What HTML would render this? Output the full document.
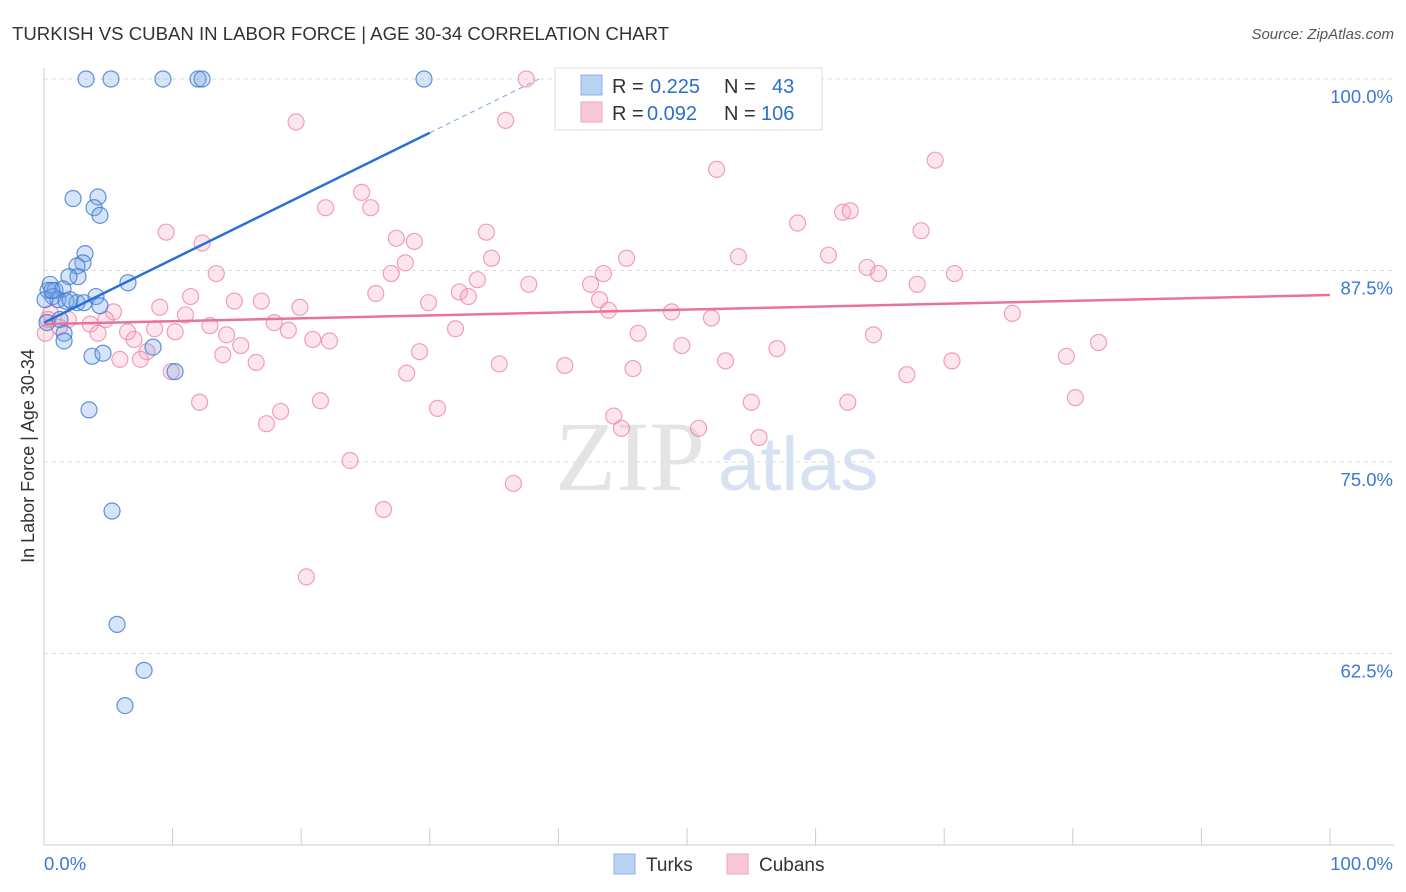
<!DOCTYPE html>
<html><head><meta charset="utf-8"><style>
body{margin:0;background:#fff;font-family:"Liberation Sans",sans-serif;}
svg{display:block}
</style></head><body>
<svg id="chart" width="1406" height="892" font-family="Liberation Sans, sans-serif">
<text x="12" y="40" font-size="18.6" fill="#333">TURKISH VS CUBAN IN LABOR FORCE | AGE 30-34 CORRELATION CHART</text>
<text x="1394" y="39" font-size="15" fill="#555" text-anchor="end" font-style="italic">Source: ZipAtlas.com</text>
<text x="34" y="456" font-size="18" fill="#333" text-anchor="middle" transform="rotate(-90 34 456)">In Labor Force | Age 30-34</text>
<text x="555" y="490" font-size="100" fill="#e4e4e4" font-family="Liberation Serif, serif">ZIP</text>
<text x="718" y="490" font-size="76" fill="#d6e2f2">atlas</text>
<g id="grid"></g><g id="axes"></g><g id="pts"></g><g id="trend"></g>
<g>
<rect x="555" y="68" width="267" height="62" fill="#fff" stroke="#ddd"/>
<rect x="581" y="75" width="21" height="20" fill="#b9d3f5" stroke="#8ab2e8"/>
<rect x="581" y="102" width="21" height="20" fill="#f9c8d8" stroke="#eea5bd"/>
<text x="612" y="93" font-size="20" fill="#333">R =</text>
<text x="650" y="93" font-size="20" fill="#2a6fd0">0.225</text>
<text x="724" y="93" font-size="20" fill="#333">N =</text>
<text x="772" y="93" font-size="20" fill="#2a6fd0">43</text>
<text x="612" y="120" font-size="20" fill="#333">R =</text>
<text x="647" y="120" font-size="20" fill="#2a6fd0">0.092</text>
<text x="724" y="120" font-size="20" fill="#333">N =</text>
<text x="761" y="120" font-size="20" fill="#2a6fd0">106</text>
</g>
<g>
<rect x="614" y="854" width="21" height="20" fill="#b9d3f5" stroke="#8ab2e8"/>
<text x="646" y="871" font-size="19" fill="#333">Turks</text>
<rect x="727" y="854" width="21" height="20" fill="#f9c8d8" stroke="#eea5bd"/>
<text x="759" y="871" font-size="19" fill="#333">Cubans</text>
</g>
<text x="44" y="870" font-size="18.5" fill="#3b78d8">0.0%</text>
<text x="1393" y="870" font-size="18.5" fill="#3b78d8" text-anchor="end">100.0%</text>
</svg>
<script>
const yTicks=[100,87.5,75,62.5];
const yTickLabels=["100.0%","87.5%","75.0%","62.5%"];
const turksX=[3.27,5.21,9.25,11.98,12.29,29.55,2.26,4.2,3.89,4.35,3.19,3.03,2.57,2.64,1.94,0.47,0.31,0.86,1.48,0.7,1.09,1.71,2.57,3.11,4.04,4.35,6.53,0.23,1.24,1.56,1.56,3.73,4.59,8.48,10.19,3.5,5.29,5.68,7.78,6.3,0.08,2.02,0.62];
const turksY=[100,100,100,100,100,100,92.2,92.3,91.6,91.1,88.6,88.0,87.8,87.1,87.1,86.6,86.2,86.2,86.3,85.8,85.6,85.5,85.4,85.4,85.8,85.2,86.7,84.1,84.3,83.4,82.9,81.9,82.1,82.5,80.9,78.4,71.8,64.4,61.4,59.1,85.6,85.6,86.2];
const cubansX=[37.5,19.6,35.9,69.3,52.3,24.7,21.9,25.4,9.5,58.6,62.1,62.7,68.2,27.4,28.8,34.4,12.3,61.0,28.1,34.8,45.3,54.0,64.0,64.9,70.8,13.4,27.0,43.5,33.7,37.7,67.9,42.5,11.4,25.8,32.3,33.0,43.2,14.8,16.9,29.9,9.0,19.9,43.9,48.8,5.4,75.3,11.0,51.9,17.9,12.9,3.6,1.9,4.8,0.5,0.3,1.2,4.2,6.5,8.6,10.2,14.2,19.0,32.0,46.2,64.5,7.0,15.3,20.9,22.2,49.6,57.0,0.1,8.0,29.2,13.9,5.9,7.5,16.5,35.4,40.5,53.0,70.6,79.5,82.0,9.9,28.2,45.8,67.1,12.1,21.5,30.6,55.0,62.5,80.2,18.4,17.3,44.3,44.9,50.9,55.6,23.8,36.5,26.4,20.4];
const cubansY=[100,97.2,97.3,94.7,94.1,92.6,91.6,91.6,90.0,90.6,91.3,91.4,90.1,89.6,89.4,90.0,89.3,88.5,88.0,88.3,88.3,88.4,87.7,87.3,87.3,87.3,87.3,87.3,86.9,86.6,86.6,86.6,85.8,86.0,86.1,85.8,85.6,85.5,85.5,85.4,85.1,85.1,84.9,84.8,84.8,84.7,84.6,84.4,84.1,83.9,84.0,84.3,84.3,84.7,84.3,83.8,83.4,83.5,83.7,83.5,83.3,83.6,83.7,83.4,83.3,83.0,82.6,83.0,82.9,82.6,82.4,83.4,82.2,82.2,82.0,81.7,81.7,81.5,81.4,81.3,81.6,81.6,81.9,82.8,80.9,80.8,81.1,80.7,78.9,79.0,78.5,78.9,78.9,79.2,78.3,77.5,78.0,77.2,77.2,76.6,75.1,73.6,71.9,67.5];
const turksTrend=[84.1,0.413];
const cubansTrend=[84.0,0.019];
const NS="http://www.w3.org/2000/svg";
const X=v=>44+v*12.86, Y=v=>79+(100-v)*15.32;
function mk(tag,attrs,parent){const e=document.createElementNS(NS,tag);for(const k in attrs)e.setAttribute(k,attrs[k]);parent.appendChild(e);return e;}
const grid=document.getElementById('grid'),axes=document.getElementById('axes'),pts=document.getElementById('pts'),tr=document.getElementById('trend');
yTicks.forEach((t,i)=>{
 const l=mk('line',{x1:44,x2:1394,y1:Y(t),y2:Y(t),stroke:'#ddd','stroke-dasharray':'4,4'},grid);
 
 
 const tx=mk('text',{x:1393,y:Y(t)+24,'font-size':18.5,fill:'#3b78d8','text-anchor':'end'},grid);
 tx.textContent=yTickLabels[i];
 
 
});
const ax=mk('line',{x1:44,x2:44,y1:68,y2:845,stroke:'#ccc'},axes);


const bx=mk('line',{x1:44,x2:1394,y1:845,y2:845,stroke:'#ccc'},axes);


for(let i=0;i<=10;i++){
 const t=mk('line',{x1:X(i*10),x2:X(i*10),y1:828,y2:845,stroke:'#ccc'},axes);
 
 
}
function plot(xs,ys,fill,stroke,name){
 xs.forEach((x,i)=>{
  const c=mk('circle',{cx:X(x),cy:Y(ys[i]),r:8,fill:fill,stroke:stroke,'stroke-width':1.2},pts);
  
  
 });
}
plot(cubansX,cubansY,'rgba(246,170,195,0.3)','rgba(236,130,165,0.75)','cuban-point');
plot(turksX,turksY,'rgba(120,165,230,0.3)','rgba(60,120,210,0.8)','turk-point');
const tl=mk('line',{x1:X(0),y1:Y(turksTrend[0]),x2:X(30),y2:Y(turksTrend[0]+30*turksTrend[1]),stroke:'#2a6fd8','stroke-width':2.5},tr);


const td=mk('line',{x1:X(30),y1:Y(turksTrend[0]+30*turksTrend[1]),x2:X(38.5),y2:Y(turksTrend[0]+38.5*turksTrend[1]),stroke:'#8ab2e8','stroke-width':1.2,'stroke-dasharray':'5,4'},tr);


const cl=mk('line',{x1:X(0),y1:Y(cubansTrend[0]),x2:X(100),y2:Y(cubansTrend[0]+100*cubansTrend[1]),stroke:'#e8739a','stroke-width':2.5},tr);


</script>
</body></html>
